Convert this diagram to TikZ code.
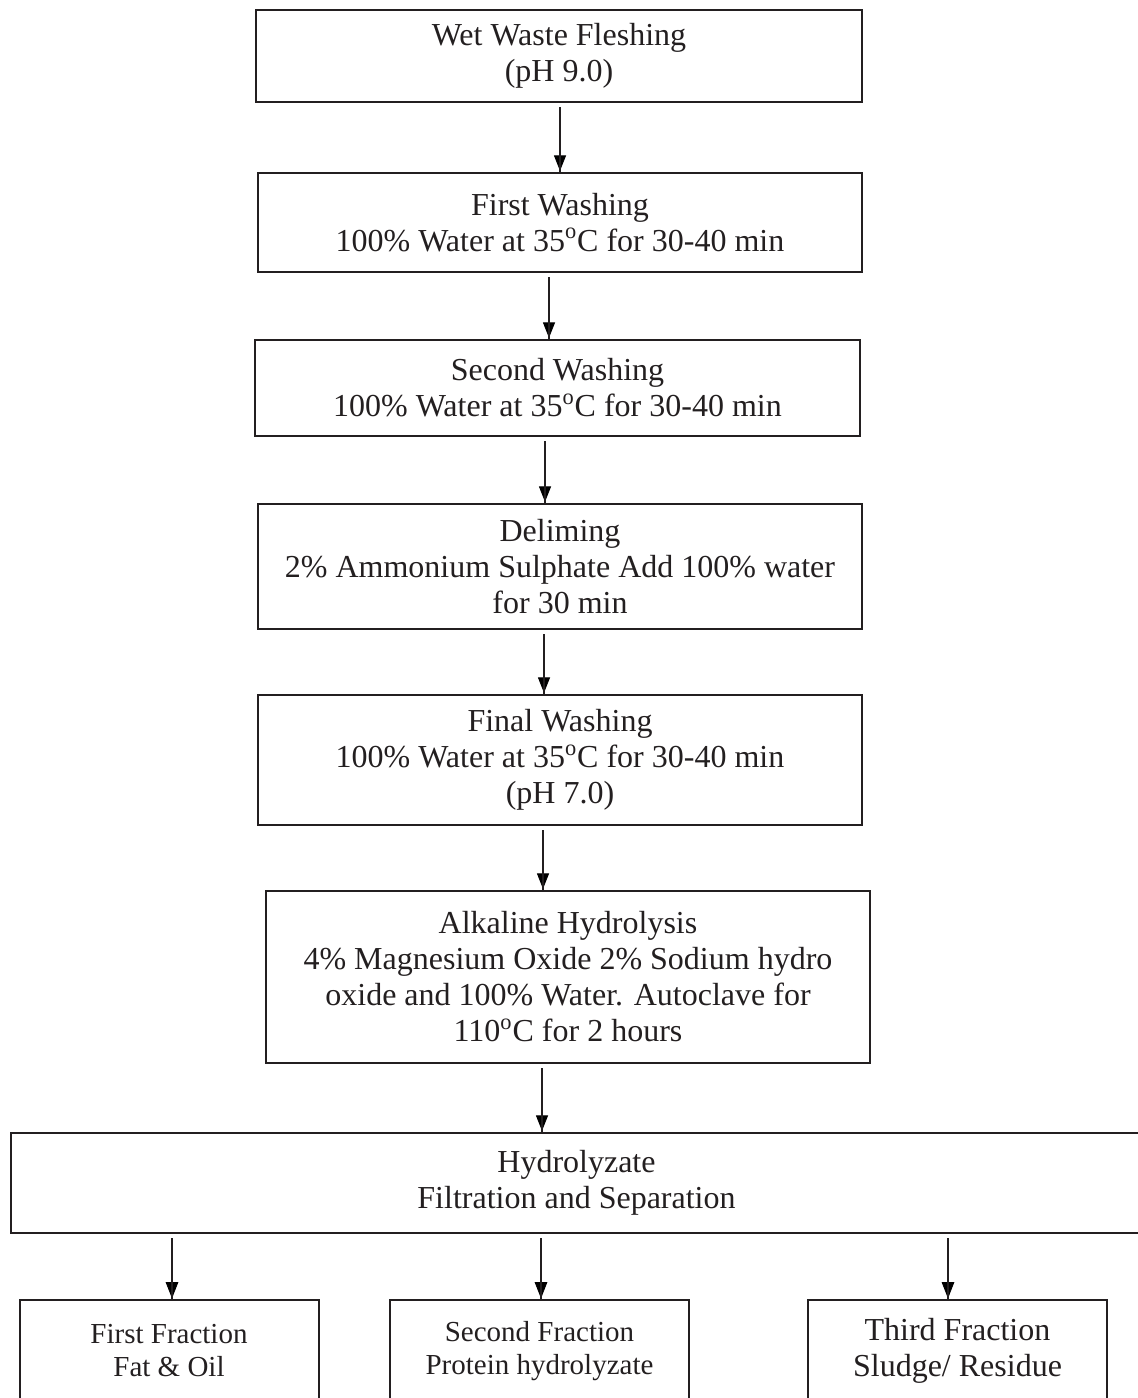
\documentclass[tikz,border=0pt]{standalone}
\usepackage{fontspec}
\setmainfont{Liberation Serif}
\usetikzlibrary{arrows.meta, decorations.markings}
\tikzset{
    Arrow/.style = {
        thick, 
        decoration={
            markings,
            mark=at position 1 with {
                \arrow[#1]{Triangle[width=6.5pt, length=8.5pt]}
                }
            }, 
        shorten <= 2pt,
        preaction = {decorate}
    },
    Arrow/.default={black},
    Stage/.style = {
        draw=lineBlack, line width=1pt, align=center, inner sep=0pt,
        font=\fontsize{16}{18}\selectfont
    },
    Fraction/.style = {
        Stage, minimum width=149.5pt, minimum height=51pt,
        font=\fontsize{14.5}{16.5}\selectfont
    }
}
\definecolor{lineBlack}{HTML}{231f20}

\begin{document}
\begin{tikzpicture}[x=0.5pt, y=-0.5pt, color=lineBlack]
    \useasboundingbox (0,0) rectangle (1138,1398);
    \node [Stage, minimum width=303pt, minimum height=46pt] (Wet) at (559,56) {Wet Waste Fleshing\\(pH 9.0)};
    \node [Stage, minimum width=302pt, minimum height=49.5pt] (WashA) at (560,222.5) {First Washing\\100\% Water at 35\textsuperscript{o}C for 30-40 min};
    \node [Stage, minimum width=302.5pt, minimum height=48pt] (WashB) at (557.5,388) {Second Washing\\100\% Water at 35\textsuperscript{o}C for 30-40 min};
    \node [Stage, minimum width=302pt, minimum height=62.5pt] (Delime) at (560,566.5) {Deliming\\2\% Ammonium Sulphate Add 100\% water\\for 30 min};
    \node [Stage, minimum width=302pt, minimum height=65pt] (WashC) at (560,760) {Final Washing\\100\% Water at 35\textsuperscript{o}C for 30-40 min\\(pH 7.0)};
    \node [Stage, minimum width=302pt, minimum height=86pt] (Alk) at (568,977) {Alkaline Hydrolysis\\4\% Magnesium Oxide 2\% Sodium hydro\\oxide and 100\% Water. Autoclave for\\110\textsuperscript{o}C for 2 hours};
    \node [Stage, minimum width=565.5pt, minimum height=50pt] (Hyd) at (576.5,1183) {Hydrolyzate\\Filtration and Separation};
    \node [Fraction] (FatOil) at (169,1351) {First Fraction\\Fat \& Oil};
    \node [Fraction] (Protein) at (539.5,1351) {Second Fraction\\Protein hydrolyzate};
    \node [Fraction, font=\fontsize{16}{18}\selectfont] (Sludge) at (957.5,1351) {Third Fraction\\Sludge/ Residue};
    \foreach \from/\to/\x in {Wet/WashA/560, WashA/WashB/549, WashB/Delime/545, Delime/WashC/544, WashC/Alk/543, Alk/Hyd/542}
        \draw [Arrow] (\from.south -| \x,0) to (\to.north -| \x,0);
    \foreach \to/\x in {FatOil/172, Protein/541, Sludge/948}
        \draw [Arrow, semithick] (Hyd.south -| \x,0) to (\to.north -| \x,0);
\end{tikzpicture}
\end{document}
